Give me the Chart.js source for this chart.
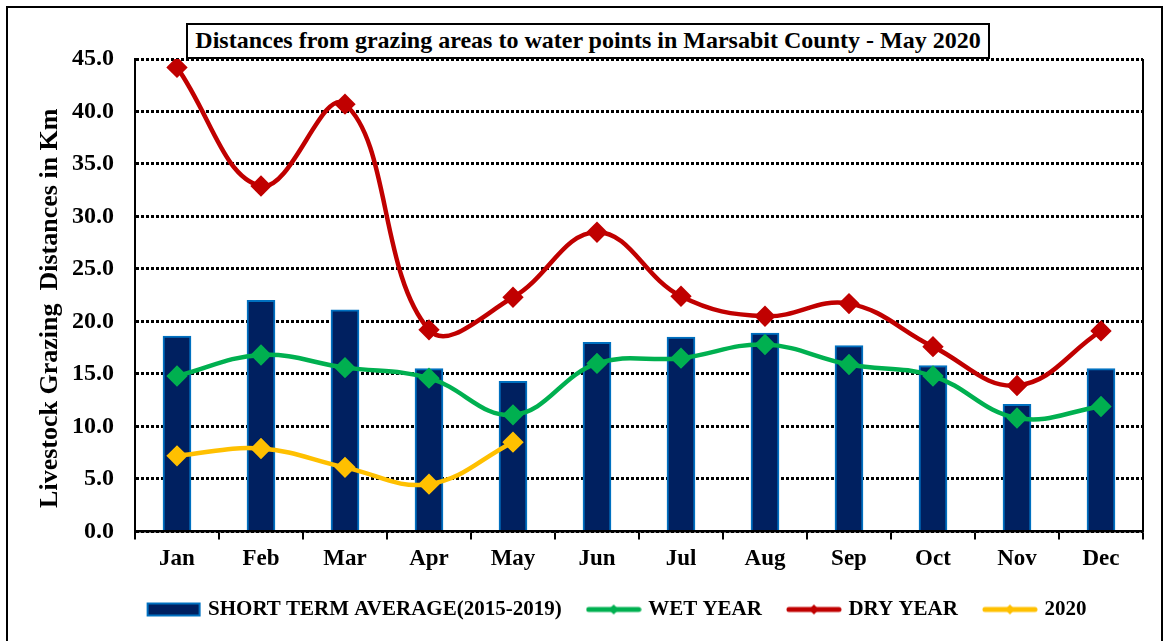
<!DOCTYPE html>
<html lang="en">
<head>
<meta charset="UTF-8">
<title>Grazing distances Marsabit</title>
<script src="https://cdn.jsdelivr.net/npm/chart.js"></script>
<style>
    body { margin: 0; background: #fff; }
    #wrap { position: relative; width: 1171px; height: 641px; }
    #frame {
        position: absolute; left: 6px; top: 6px; width: 1157px; height: 650px;
        border: 2px solid #000; box-sizing: border-box;
    }
    #title {
        position: absolute; left: 186px; top: 23px; width: 804px; height: 36px;
        border: 2px solid #000; box-sizing: border-box; background: #fff;
        font: bold 24px "Liberation Serif", "Times New Roman", serif;
        text-align: center; line-height: 31px; z-index: 2;
    }
    canvas { position: absolute; left: 0; top: 0; }
</style>
</head>
<body>
<div id="wrap">
    <div id="frame"></div>
    <div id="title">Distances from grazing areas to water points in Marsabit County - May 2020</div>
    <canvas id="grazingChart" width="1171" height="641"></canvas>
</div>

<script>
    // values (km)
    const months = ['Jan', 'Feb', 'Mar', 'Apr', 'May', 'Jun', 'Jul', 'Aug', 'Sep', 'Oct', 'Nov', 'Dec'];
    const shortTermAvg = [18.6, 22.0, 21.1, 15.5, 14.3, 18.0, 18.5, 18.9, 17.7, 15.8, 12.1, 15.5];
    const wetYear = [14.8, 16.8, 15.6, 14.6, 11.1, 16.0, 16.5, 17.8, 15.9, 14.8, 10.8, 11.9];
    const dryYear = [44.2, 32.9, 40.7, 19.2, 22.3, 28.5, 22.4, 20.5, 21.7, 17.6, 13.9, 19.1];
    const year2020 = [7.2, 7.9, 6.1, 4.5, 8.5];
    const yTicks = [0, 5, 10, 15, 20, 25, 30, 35, 40, 45];

    const serif = '"Liberation Serif", "Times New Roman", serif';

    // legend swatches: small canvases (line + diamond, or a bar box)
    function lineSwatch(color) {
        const c = document.createElement('canvas');
        c.width = 56; c.height = 14;
        const g = c.getContext('2d');
        g.strokeStyle = color; g.lineWidth = 5; g.lineCap = 'round';
        g.beginPath(); g.moveTo(3, 7); g.lineTo(53, 7); g.stroke();
        g.fillStyle = color;
        g.beginPath(); g.moveTo(28, 2); g.lineTo(33, 7); g.lineTo(28, 12); g.lineTo(23, 7); g.closePath(); g.fill();
        return c;
    }
    function barSwatch() {
        const c = document.createElement('canvas');
        c.width = 56; c.height = 16;
        const g = c.getContext('2d');
        g.fillStyle = '#0070C0'; g.fillRect(1, 1, 54, 14);
        g.fillStyle = '#002060'; g.fillRect(3, 3, 50, 10);
        return c;
    }

    // plot area right border
    const rightBorder = {
        id: 'rightBorder',
        afterDraw(chart) {
            const a = chart.chartArea, ctx = chart.ctx;
            ctx.save();
            ctx.strokeStyle = '#000'; ctx.lineWidth = 2;
            ctx.beginPath(); ctx.moveTo(a.right, a.top); ctx.lineTo(a.right, a.bottom); ctx.stroke();
            ctx.restore();
        }
    };

    // the original legend sits a little right of centre and close under the axis
    const shiftLegend = {
        id: 'shiftLegend',
        afterLayout(chart) {
            const lg = chart.legend;
            lg.left += 31; lg.right += 31;
            lg.top -= 8; lg.bottom -= 8;
        }
    };

    const ctx = document.getElementById('grazingChart').getContext('2d');
    new Chart(ctx, {
        data: {
            labels: months,
            datasets: [
                {
                    type: 'bar', label: 'SHORT TERM AVERAGE(2015-2019)', data: shortTermAvg,
                    backgroundColor: '#002060', borderColor: '#0070C0', borderWidth: 2,
                    barThickness: 28, order: 10, swatch: barSwatch()
                },
                {
                    type: 'line', label: 'WET YEAR', data: wetYear,
                    borderColor: '#00B050', backgroundColor: '#00B050', borderWidth: 4.5,
                    pointStyle: 'rectRot', pointRadius: 7.5, tension: 0.4, order: 3, swatch: lineSwatch('#00B050')
                },
                {
                    type: 'line', label: 'DRY YEAR', data: dryYear,
                    borderColor: '#C00000', backgroundColor: '#C00000', borderWidth: 4.5,
                    pointStyle: 'rectRot', pointRadius: 7.5, tension: 0.4, order: 2, swatch: lineSwatch('#C00000')
                },
                {
                    type: 'line', label: '2020', data: year2020,
                    borderColor: '#FFC000', backgroundColor: '#FFC000', borderWidth: 4.5,
                    pointStyle: 'rectRot', pointRadius: 7.5, tension: 0.4, order: 1, swatch: lineSwatch('#FFC000')
                }
            ]
        },
        options: {
            responsive: false,
            animation: false,
            layout: { padding: { top: 59, right: 28, left: 31, bottom: 3 } },
            plugins: {
                title: { display: false },
                tooltip: { enabled: false },
                legend: {
                    position: 'bottom',
                    labels: {
                        usePointStyle: true,
                        pointStyleWidth: 48,
                        padding: 28,
                        color: '#000',
                        font: { family: serif, size: 21, weight: 'bold' },
                        generateLabels(chart) {
                            return chart.data.datasets.map((ds, i) => ({
                                text: ds.label,
                                pointStyle: ds.swatch,
                                fillStyle: ds.backgroundColor,
                                strokeStyle: ds.borderColor,
                                lineWidth: 0,
                                datasetIndex: i,
                                fontColor: '#000'
                            }));
                        }
                    }
                }
            },
            scales: {
                x: {
                    offset: true,
                    grid: { offset: true, drawOnChartArea: false, drawTicks: true, tickLength: 8, color: '#000', lineWidth: 2 },
                    border: { display: true, color: '#000', width: 2.5 },
                    ticks: { color: '#000', padding: 6, font: { family: serif, size: 23, weight: 'bold' } }
                },
                y: {
                    min: 0, max: 45,
                    afterBuildTicks(scale) { scale.ticks = yTicks.map(v => ({ value: v })); },
                    afterFit(scale) { scale.width = 104; },
                    grid: { color: '#000', lineWidth: 3, drawTicks: false },
                    border: { display: true, color: '#000', width: 2, dash: [3, 2] },
                    ticks: {
                        color: '#000', padding: 21,
                        font: { family: serif, size: 24, weight: 'bold' },
                        callback: v => v.toFixed(1)
                    },
                    title: {
                        display: true, text: 'Livestock Grazing  Distances in Km    ', color: '#000',
                        font: { family: serif, size: 26, weight: 'bold' }, padding: 4
                    }
                }
            }
        },
        plugins: [rightBorder, shiftLegend]
    });
</script>
</body>
</html>
